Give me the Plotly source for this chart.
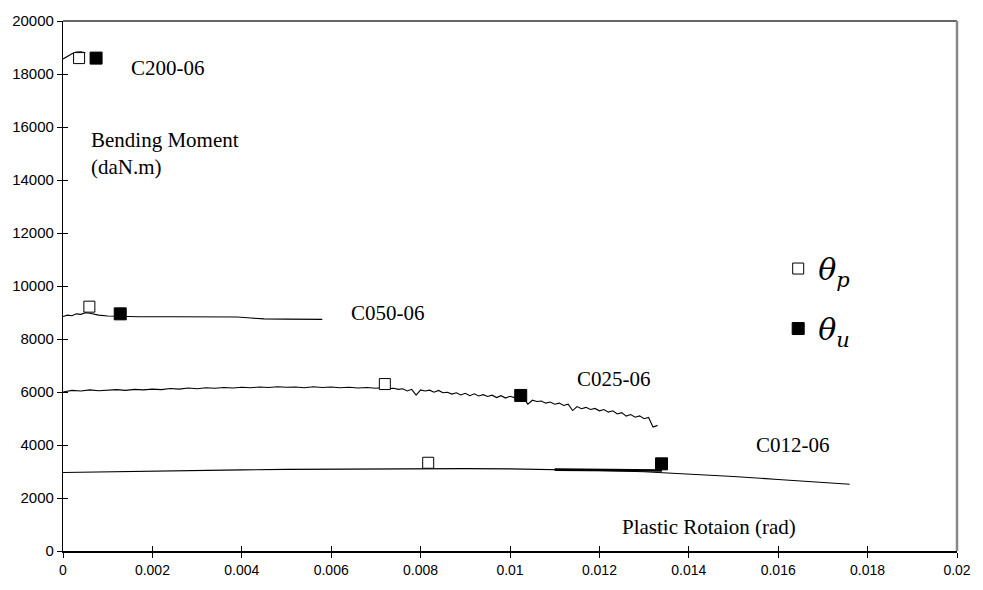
import plotly.graph_objects as go

# ---------------- data ----------------
c200_x = [0, 0.0001, 0.0002, 0.0003, 0.0004, 0.0005]
c200_y = [18570, 18680, 18760, 18830, 18840, 18800]

c050_x = [0, 0.0001, 0.0002, 0.0003, 0.0004, 0.0005, 0.0006, 0.0007, 0.0008, 0.0010,
          0.0013, 0.0017, 0.0025, 0.0035, 0.0039, 0.0042, 0.0045, 0.0050, 0.0058]
c050_y = [8850, 8900, 8880, 8950, 8930, 8990, 8970, 8930, 8900, 8870,
          8850, 8840, 8840, 8840, 8830, 8790, 8760, 8750, 8740]

c025_x = [0, 0.0002, 0.0004, 0.0006, 0.0008, 0.0010, 0.0012, 0.0014, 0.0016, 0.0018,
          0.0020, 0.0022, 0.0024, 0.0026, 0.0028, 0.0030, 0.0032, 0.0034, 0.0036, 0.0038,
          0.0040, 0.0042, 0.0044, 0.0046, 0.0048, 0.0050, 0.0052, 0.0054, 0.0056, 0.0058,
          0.0060, 0.0062, 0.0064, 0.0066, 0.0068, 0.0070,
          0.0071, 0.0072, 0.0073, 0.0074, 0.0075, 0.0076, 0.0077, 0.0078, 0.0079, 0.0080,
          0.0081, 0.0082, 0.0083, 0.0084, 0.0085, 0.0086, 0.0087, 0.0088, 0.0089, 0.0090,
          0.0091, 0.0092, 0.0093, 0.0094, 0.0095, 0.0096, 0.0097, 0.0098, 0.0099, 0.0100,
          0.0101, 0.0102, 0.0103, 0.0104, 0.0105, 0.0106, 0.0107, 0.0108, 0.0109, 0.0110,
          0.0111, 0.0112, 0.0113, 0.0114, 0.0115, 0.0116, 0.0117, 0.0118, 0.0119, 0.0120,
          0.0121, 0.0122, 0.0123, 0.0124, 0.0125, 0.0126, 0.0127, 0.0128, 0.0129, 0.0130,
          0.0131, 0.0132, 0.0133]
c025_y = [6000, 6060, 6040, 6080, 6050, 6070, 6090, 6060, 6100, 6080,
          6110, 6090, 6130, 6110, 6150, 6120, 6160, 6140, 6170, 6150,
          6180, 6160, 6190, 6170, 6200, 6180, 6190, 6160, 6200, 6170,
          6190, 6160, 6180, 6150, 6170, 6140,
          6160, 6150, 6130, 6140, 6100, 6120, 6040, 6100, 5880, 6080,
          6040, 6070, 5990, 6060, 5970, 5990, 5920, 5970, 5890, 5950,
          5860, 5930, 5850, 5900, 5830, 5880, 5790, 5860, 5770, 5840,
          5790, 5810, 5780, 5540, 5690, 5640, 5660, 5580, 5620, 5540,
          5580, 5490, 5540, 5300, 5450, 5370, 5420, 5340, 5380, 5290,
          5340, 5240, 5290, 5170, 5220, 5090, 5150, 5050, 5100, 4990,
          5040, 4680, 4740]

c012_x = [0, 0.001, 0.002, 0.003, 0.004, 0.005, 0.006, 0.007, 0.008, 0.009,
          0.010, 0.011, 0.012, 0.013, 0.014, 0.015, 0.016, 0.017, 0.0176]
c012_y = [2960, 2990, 3020, 3040, 3060, 3080, 3090, 3100, 3110, 3110,
          3100, 3080, 3040, 2990, 2910, 2810, 2700, 2590, 2520]

c012b_x = [0.0110, 0.0122, 0.0134]
c012b_y = [3070, 3055, 3040]

theta_p_x = [0.00036, 0.00059, 0.0072, 0.00817]
theta_p_y = [18600, 9220, 6300, 3330]
theta_u_x = [0.00074, 0.00128, 0.01024, 0.01339]
theta_u_y = [18600, 8950, 5870, 3290]

labels = ["C200-06", "C050-06", "C025-06", "C012-06"]
label_x = [0.00148, 0.00639, 0.01146, 0.01546]
label_y = [18210, 8980, 6500, 4000]

x_ticks = [0, 0.002, 0.004, 0.006, 0.008, 0.010, 0.012, 0.014, 0.016, 0.018, 0.020]
x_ticktext = ["0", "0.002", "0.004", "0.006", "0.008", "0.01", "0.012", "0.014", "0.016", "0.018", "0.02"]
y_ticks = [0, 2000, 4000, 6000, 8000, 10000, 12000, 14000, 16000, 18000, 20000]
y_ticktext = [str(v) for v in y_ticks]

# ---------------- figure ----------------
fig = go.Figure()
line_style = dict(color="black", width=1.1)
for xs, ys in [(c200_x, c200_y), (c050_x, c050_y), (c025_x, c025_y), (c012_x, c012_y)]:
    fig.add_trace(go.Scatter(x=xs, y=ys, mode="lines", line=line_style, showlegend=False,
                             hoverinfo="skip"))
fig.add_trace(go.Scatter(x=c012b_x, y=c012b_y, mode="lines", line=dict(color="black", width=2.6),
                         showlegend=False, hoverinfo="skip"))

fig.add_trace(go.Scatter(x=theta_p_x, y=theta_p_y, mode="markers", name="<i>θ</i><sub><i>p</i></sub>",
                         legendgroup="p",
                         marker=dict(symbol="square", size=11, color="white",
                                     line=dict(color="black", width=1))))
fig.add_trace(go.Scatter(x=theta_u_x, y=theta_u_y, mode="markers", name="<i>θ</i><sub><i>u</i></sub>",
                         legendgroup="u",
                         marker=dict(symbol="square", size=12, color="black",
                                     line=dict(color="black", width=1))))
# helper trace so the crossing-tick overlay axes are instantiated
fig.add_trace(go.Scatter(x=[None], y=[None], xaxis="x2", yaxis="y2", showlegend=False,
                         hoverinfo="skip"))

serif = "Liberation Serif, Times New Roman, serif"
for t, lx, ly in zip(labels, label_x, label_y):
    fig.add_annotation(x=lx, y=ly, text=t, showarrow=False, xanchor="left", yanchor="middle",
                       font=dict(family=serif, size=21, color="black"))

fig.add_annotation(x=0.00059, y=14990, text="Bending Moment<br>(daN.m)", showarrow=False,
                   xanchor="left", yanchor="middle", align="left",
                   font=dict(family=serif, size=21, color="black"))
fig.add_annotation(x=0.01247, y=900, text="Plastic Rotaion (rad)", showarrow=False,
                   xanchor="left", yanchor="middle",
                   font=dict(family=serif, size=21, color="black"))

ytickfont = dict(family="Liberation Sans, Arial, sans-serif", size=15, color="black")
xtickfont = dict(family="Liberation Sans, Arial, sans-serif", size=14, color="black")
fig.update_layout(
    width=983, height=590,
    margin=dict(l=62, r=13, t=17, b=34),
    paper_bgcolor="white", plot_bgcolor="white",
    xaxis=dict(range=[0, 0.02], tickvals=x_ticks, ticktext=x_ticktext, ticks="outside",
               ticklen=5, tickwidth=1, tickcolor="black", showgrid=False, zeroline=False,
               showline=True, linecolor="black", linewidth=1.5, tickfont=xtickfont,
               ticklabeloverflow="allow"),
    yaxis=dict(range=[0, 20000], tickvals=y_ticks, ticktext=y_ticktext, ticks="outside",
               ticklen=5, tickwidth=1, tickcolor="black", showgrid=False, zeroline=False,
               showline=True, linecolor="black", linewidth=1.2, tickfont=ytickfont,
               ticklabeloverflow="allow"),
    xaxis2=dict(range=[0, 0.02], overlaying="x", tickvals=x_ticks, ticks="inside", ticklen=5,
                tickcolor="black", showticklabels=False, showgrid=False, zeroline=False,
                showline=False),
    yaxis2=dict(range=[0, 20000], overlaying="y", tickvals=y_ticks, ticks="inside", ticklen=5,
                tickcolor="black", showticklabels=False, showgrid=False, zeroline=False,
                showline=False),
    legend=dict(x=0.8, y=0.582, xanchor="left", yanchor="top", bgcolor="rgba(0,0,0,0)",
                font=dict(family="DejaVu Serif, serif", size=30, color="black"),
                tracegroupgap=18, itemsizing="trace"),
    shapes=[
        dict(type="line", xref="paper", yref="paper", x0=0, x1=1, y0=1, y1=1,
             line=dict(color="#333333", width=1.5)),
        dict(type="line", xref="paper", yref="paper", x0=1, x1=1, y0=0, y1=1,
             line=dict(color="#888888", width=2.5)),
    ],
)

fig.write_html("out.html", config={"displayModeBar": False},
               post_script="document.body.style.margin='0';document.body.style.overflow='hidden';")
